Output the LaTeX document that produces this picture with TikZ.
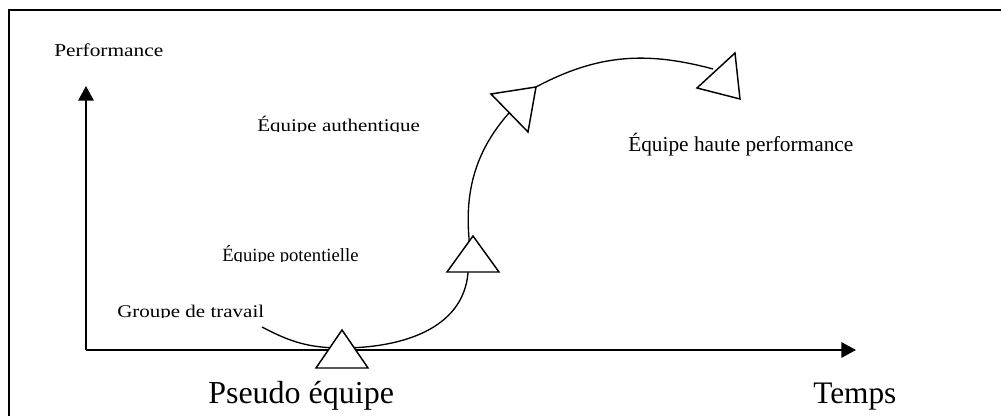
\documentclass[tikz,border=0pt]{standalone}
\usepackage{fontspec}
\usepackage{graphicx}
\setmainfont{Liberation Serif}
\usetikzlibrary{arrows.meta}

% label whose lower part (descenders) is cut off at the baseline
\newcommand\cutlabel[5]{%
  \begin{scope}
    \clip (#2-4,#3) rectangle ++(230,30);
    \node[lbl, #4] (#1) at (#2,#3) {#5};
  \end{scope}}

\begin{document}
\begin{tikzpicture}[x=0.75pt, y=0.75pt,
    axis/.style={line width=1.5pt, -{Triangle[length=11pt,width=11.5pt]}},
    curve/.style={line width=1pt},
    tri/.style={line width=1.1pt, fill=white, line join=miter},
    lbl/.style={anchor=base west, inner sep=0pt}]
        \useasboundingbox (0,0) rectangle (1001,416);
        % frame (only top and left edges are visible)
        \draw[line width=1.5pt] (8.5,0) -- (8.5,406) -- (1001,406);

        % axes
        \coordinate (o)  at (86,66);
        \coordinate (yt) at (86,330);
        \coordinate (xt) at (856,66);
        \draw[axis] (o) -- (yt);
        \draw[axis] (o) -- (xt);

        % path of the team through its stages
        \coordinate (s)   at (262,89);
        \coordinate (m1)  at (342,68);
        \coordinate (b2)  at (468,143);
        \coordinate (a2)  at (469,178);
        \coordinate (v3)  at (536,329);
        \coordinate (e4)  at (713,347);
        \draw[curve] (s) to[out=-28,in=180] (m1) to[out=0,in=-95] (b2)
            -- (a2) to[out=95,in=-140] (v3) to[out=28,in=165] (e4);

        % stage markers
        \draw[tri] (342,86)  -- (316,48)  -- (368,48)  -- cycle;
        \draw[tri] (473,180) -- (447,144) -- (499,144) -- cycle;
        \draw[tri] (491,322) -- (536,329) -- (528,284) -- cycle;
        \draw[tri] (735,363) -- (697,328) -- (740,317) -- cycle;

        % labels
        \node[lbl] (perf) at (54,359)
            {\fontsize{16}{18}\selectfont\scalebox{1}[0.85]{Performance}};
        \cutlabel{auth}{257}{284}{}{\fontsize{15.75}{18}\selectfont\scalebox{1}[0.85]{Équipe authentique}}
        \cutlabel{pot}{222}{154}{}{\fontsize{14}{16}\selectfont Équipe potentielle}
        \cutlabel{grp}{117}{98}{}{\fontsize{15.75}{18}\selectfont\scalebox{1}[0.85]{Groupe de travail}}
        \node[lbl] (haute) at (628,264) {\fontsize{16}{18}\selectfont Équipe haute performance};
        \node[lbl] (pseudo) at (208,12) {\fontsize{24}{28}\selectfont Pseudo équipe};
        \node[lbl] (temps) at (813,12) {\fontsize{23.5}{28}\selectfont Temps};
\end{tikzpicture}
\end{document}
